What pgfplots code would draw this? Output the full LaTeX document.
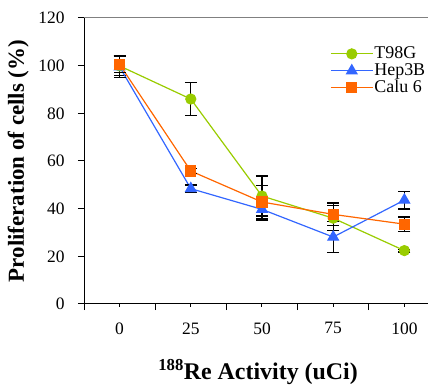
\documentclass[border=0pt]{standalone}
\usepackage{fontspec}
\setmainfont{Liberation Serif}
\usepackage{pgfplots}
\pgfplotsset{compat=1.18}
\definecolor{cgreen}{RGB}{153,204,0}
\definecolor{cblue}{RGB}{51,102,255}
\definecolor{corange}{RGB}{255,102,0}

\begin{document}
\begin{tikzpicture}[x=1bp,y=1bp]
\begin{axis}[
  at={(84bp,81bp)}, anchor=south west,
  scale only axis, width=356bp, height=286bp,
  xmin=-0.5, xmax=4.5, ymin=0, ymax=120,
  axis x line*=bottom, axis y line*=left,
  axis line style={black, line width=1bp},
  tick align=outside,
  tick style={black, line width=1bp},
  major tick length=6bp,
  xtick={-0.5,0.5,1.5,2.5,3.5,4.5}, xticklabels={},
  extra x ticks={0,1,2,3,4},
  extra x tick labels={0,25,50,75,100},
  extra x tick style={major tick length=3bp, tick style={black, line width=1bp}},
  ytick={0,20,40,60,80,100,120},
  /pgf/number format/assume math mode=true,
  tick label style={font=\fontsize{17.5}{19}\selectfont},
  xticklabel style={yshift=-12bp},
  yticklabel style={xshift=-10bp},
  ylabel={Proliferation of cells (\%)},
  ylabel style={font=\fontsize{23}{25}\selectfont\bfseries, at={(axis description cs:-0.185,0.5)}, anchor=center},
  xlabel={\textsuperscript{188}Re Activity (uCi)},
  xlabel style={font=\fontsize{24}{26}\selectfont\bfseries, at={(axis description cs:0.489,-0.238)}, anchor=center},
  legend style={at={(axis description cs:0.691,0.905)}, anchor=north west, draw=none, fill=none,
    font=\fontsize{18}{18}\selectfont, row sep=0bp, inner sep=0pt,
    nodes={text height=12bp, text depth=3bp, inner sep=1bp},
    /tikz/every even column/.append style={column sep=2bp}},
  legend cell align=left,
  legend image code/.code={\draw[mark repeat=2,mark phase=2,#1] plot coordinates {(0bp,0bp) (21bp,0bp) (42bp,0bp)};},
  clip=false,
]
\addplot[cgreen, line width=1.2bp, mark=*, mark size=5bp, mark options={fill=cgreen, draw=cgreen, solid},
  error bars/.cd, y dir=both, y explicit,
  error bar style={black, line width=1.3bp},
  error mark options={rotate=90, black, mark size=6bp, line width=1.3bp}]
  table[x=x, y=y, y error=e] {
x y e
0 99.9 4
1 86 6.8
2 45.3 8.4
3 36 5.2
4 22.4 0.6
};
\addlegendentry{T98G}
\addplot[cblue, line width=1.2bp, mark=triangle*, mark size=6bp, mark options={fill=cblue, draw=cblue, solid},
  error bars/.cd, y dir=both, y explicit,
  error bar style={black, line width=1.3bp},
  error mark options={rotate=90, black, mark size=6bp, line width=1.3bp}]
  table[x=x, y=y, y error=e] {
x y e
0 99.5 4.5
1 48.4 1.5
2 39.7 4.5
3 28.1 6.6
4 43.6 3.7
};
\addlegendentry{Hep3B}
\addplot[corange, line width=1.2bp, mark=square*, mark size=5bp, mark options={fill=corange, draw=corange, solid},
  error bars/.cd, y dir=both, y explicit,
  error bar style={black, line width=1.3bp},
  error mark options={rotate=90, black, mark size=6bp, line width=1.3bp}]
  table[x=x, y=y, y error=e] {
x y e
0 100.5 3.5
1 55.8 1
2 42.8 7
3 37.6 4.8
4 33.5 3
};
\addlegendentry{Calu 6}
\draw[gray, line width=1bp] (rel axis cs:0,1) -- (rel axis cs:1,1);
\end{axis}
\pgfresetboundingbox
\useasboundingbox (0,0) rectangle (428,385);
\end{tikzpicture}
\end{document}
